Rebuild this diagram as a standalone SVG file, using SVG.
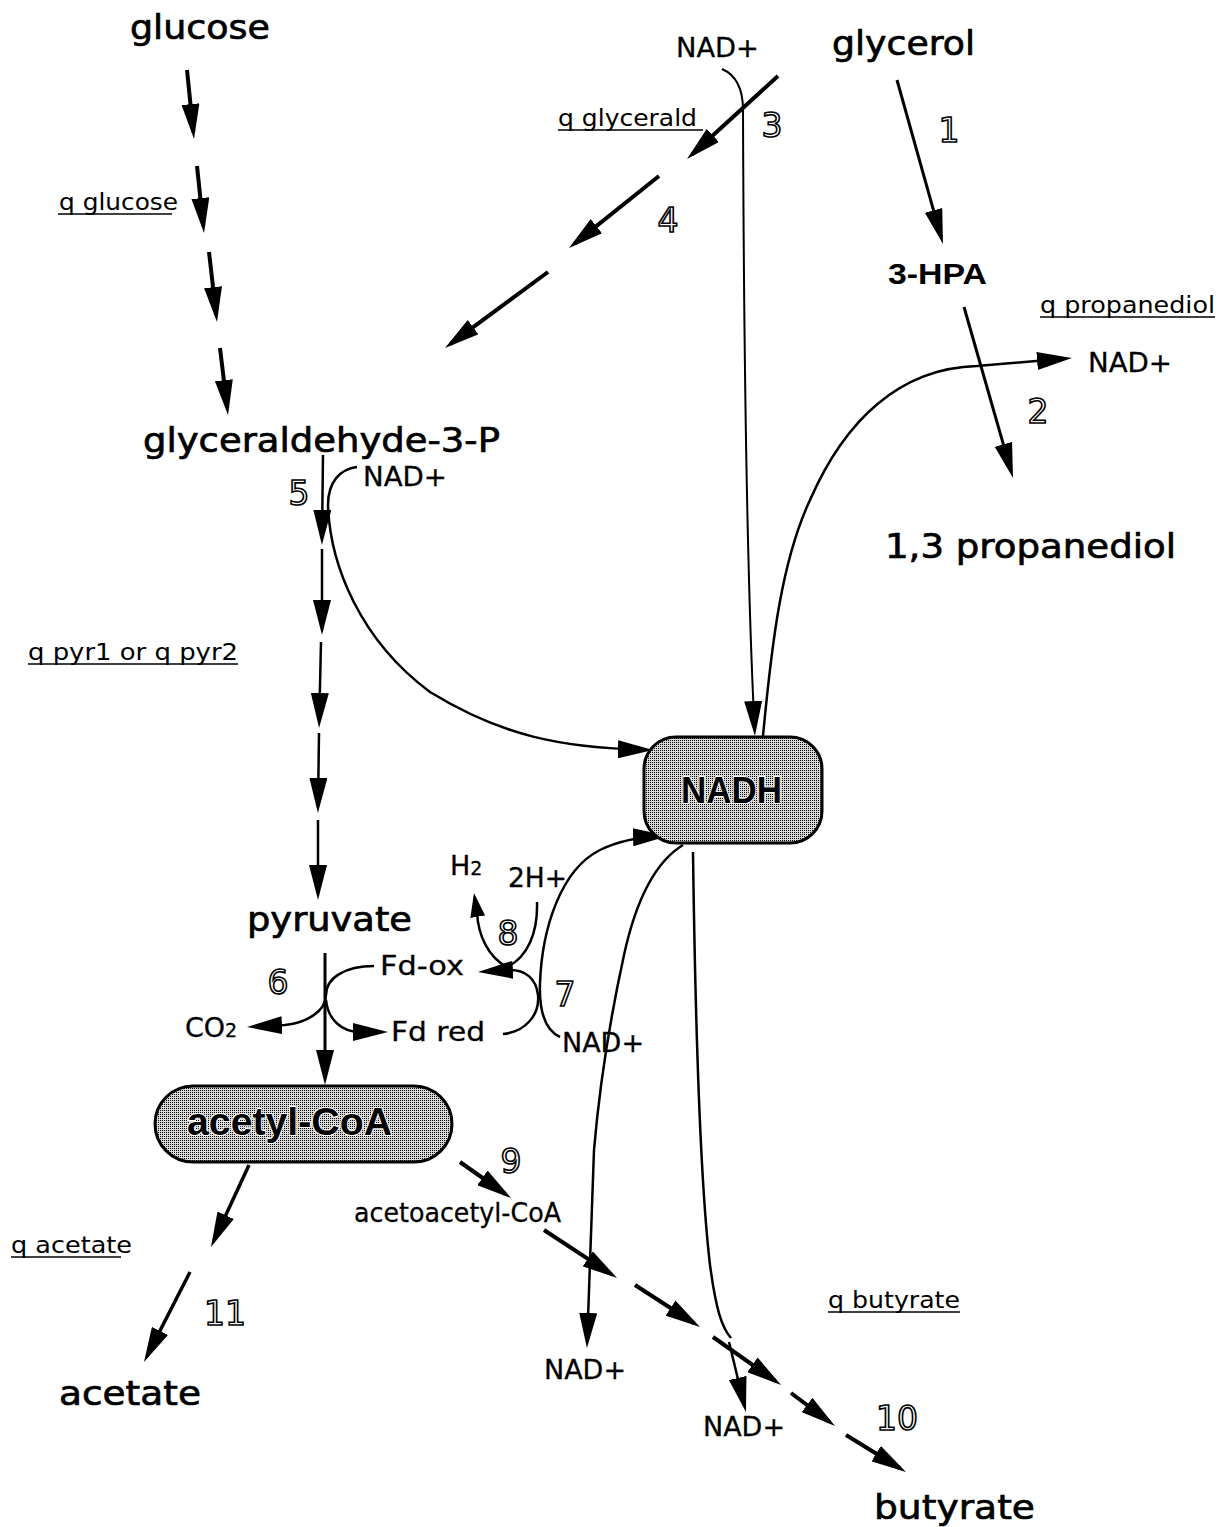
<svg xmlns="http://www.w3.org/2000/svg" width="1227" height="1527" viewBox="0 0 1227 1527">
<defs>
<style>
.big{font-family:"DejaVu Sans",sans-serif;font-size:34px;fill:#000;stroke:#000;stroke-width:0.7px}
.med{font-family:"DejaVu Sans",sans-serif;font-size:27px;fill:#000;stroke:#000;stroke-width:0.3px}
.sm{font-family:"DejaVu Sans",sans-serif;font-size:23px;fill:#000}
.num{font-family:"DejaVu Sans",sans-serif;font-size:33px;fill:#fff;stroke:#000;stroke-width:1.6px;text-anchor:middle}
.bold{font-family:"Liberation Sans",Arial,sans-serif;font-weight:bold;fill:#000}
.halo{stroke:#fff;stroke-width:2px;paint-order:stroke}
.ul{stroke:#000;stroke-width:1.6}
.box{fill:url(#dots);stroke:#000;stroke-width:3}
.c path{fill:none;stroke:#000;stroke-linecap:butt}
.c .t4{stroke-width:4}
.c .t35{stroke-width:3.5}
.c .t3{stroke-width:3}
.c .t25{stroke-width:2.5}
.c .t2{stroke-width:2}
.c .a{marker-end:url(#ah)}
.c .as{marker-end:url(#as)}
</style>
<marker id="ah" viewBox="0 0 35 18" refX="28" refY="9" markerWidth="35" markerHeight="18" markerUnits="userSpaceOnUse" orient="auto"><path d="M0,0 L35,9 L0,18 z" fill="#000"/></marker>
<marker id="as" viewBox="0 0 24 15" refX="20" refY="7.5" markerWidth="24" markerHeight="15" markerUnits="userSpaceOnUse" orient="auto"><path d="M0,0 L24,7.5 L0,15 z" fill="#000"/></marker>
<pattern id="dots" width="2" height="2" patternUnits="userSpaceOnUse"><rect width="2" height="2" fill="#d8d8d8"/><rect width="1" height="1" fill="#000"/></pattern>
</defs>
<rect width="1227" height="1527" fill="#fff"/>

<g id="connectors" class="c">
<!-- glucose chain -->
<path class="t4 a" d="M187,70 L193.3,132"/>
<path class="t4 a" d="M197,166 L203.3,226"/>
<path class="t4 a" d="M209,252 L216.2,315"/>
<path class="t4 a" d="M220,348 L227.2,408"/>
<!-- reaction 4 chain -->
<path class="t4 a" d="M778,76 L692.2,154.3"/>
<path class="t4 a" d="M659,176 L574.5,243.6"/>
<path class="t4 a" d="M548,272 L450.6,343.8"/>
<!-- reaction 3 NAD+ to NADH -->
<path class="t2 a" d="M722,69 C736,75 743,90 743,110 C744,400 748,600 754.6,729"/>
<!-- reactions 1 and 2 -->
<path class="t3 a" d="M897,80 L941.1,237.3"/>
<path class="t3 a" d="M964,307 L1011.1,471.3"/>
<!-- NADH to NAD+ (right) -->
<path class="t25 a" d="M763,736 C772,640 782,560 810,500 C845,420 900,368 977,366 L1065,358.6"/>
<!-- reaction 5 chain -->
<path class="t25 a" d="M323,455 L322,538"/>
<path class="t25 a" d="M322,549 L322,628"/>
<path class="t25 a" d="M321,642 L319.2,721"/>
<path class="t25 a" d="M319,733 L318,806"/>
<path class="t25 a" d="M318,820 L318,893"/>
<!-- NAD+ (5) to NADH -->
<path class="t25 a" d="M357,467 C340,469 328,482 328,505 C330,565 360,640 430,692 C500,735 560,748 646,749.8"/>
<!-- pyruvate to acetyl-CoA -->
<path class="t3 a" d="M325,953 L325,1078"/>
<path class="t25 a" d="M374,966 C345,966 326,978 326,995 C326,1012 305,1023 285,1025 L254,1026.6"/>
<path class="t25 a" d="M326,1000 C328,1020 342,1032 360,1032 L381,1032"/>
<!-- reaction 8 -->
<path class="t25" d="M537,902 C538,932 528,957 507,967"/>
<path class="t25 as" d="M507,967 C488,957 478,935 477,912 L474.6,897"/>
<!-- reaction 7 -->
<path class="t25 a" d="M503,1034 C525,1032 540,1015 538,995 C536,978 525,970 510,970 L485,971.6"/>
<path class="t25 a" d="M560,1037 C545,1030 539,1010 540,983 C542,930 560,870 600,850 C620,840 640,837 661,836.2"/>
<!-- NADH to NAD+ (lower) -->
<path class="t25 a" d="M683,845 C655,862 636,900 624,955 C612,1010 600,1080 594,1150 L587.2,1341"/>
<path class="t25" d="M693,852 C695,1000 700,1180 710,1265 C716,1310 722,1328 731,1338"/>
<path class="t25 a" d="M729,1342 L744.3,1405.2"/>
<!-- butyrate chain -->
<path class="t4 a" d="M544,1230 L611.2,1274.2"/>
<path class="t4 a" d="M635,1285 L694.1,1323.2"/>
<path class="t4 a" d="M713,1337 L775.3,1381"/>
<path class="t4 a" d="M791,1393 L829.4,1421.8"/>
<path class="t4 a" d="M846,1435 L900,1468.3"/>
<!-- reaction 9 -->
<path class="t4 a" d="M460,1162 L505.3,1194"/>
<!-- reaction 11 -->
<path class="t35 a" d="M249,1165 L213.9,1240.7"/>
<path class="t35 a" d="M190,1272 L147.2,1355.8"/>
</g>

<g id="glucose"><text class="big" x="130" y="39" textLength="140" lengthAdjust="spacingAndGlyphs">glucose</text></g>
<g id="glycerol"><text class="big" x="832" y="55" textLength="143" lengthAdjust="spacingAndGlyphs">glycerol</text></g>
<g id="hpa"><text class="bold" x="888" y="284" font-size="30" textLength="99" lengthAdjust="spacingAndGlyphs">3-HPA</text></g>
<g id="propanediol"><text class="big" x="885" y="558" textLength="291" lengthAdjust="spacingAndGlyphs">1,3 propanediol</text></g>
<g id="g3p"><text class="big" x="143" y="452" textLength="357" lengthAdjust="spacingAndGlyphs">glyceraldehyde-3-P</text></g>
<g id="pyruvate"><text class="big" x="247" y="931" textLength="165" lengthAdjust="spacingAndGlyphs">pyruvate</text></g>
<g id="acetate"><text class="big" x="59" y="1405" textLength="142" lengthAdjust="spacingAndGlyphs">acetate</text></g>
<g id="butyrate"><text class="big" x="874" y="1519" textLength="161" lengthAdjust="spacingAndGlyphs">butyrate</text></g>
<g id="nadh">
<rect class="box" x="644" y="737" width="178" height="106" rx="32"/>
<text class="bold halo" x="681" y="803" font-size="37" textLength="101" lengthAdjust="spacingAndGlyphs">NADH</text>
</g>
<g id="acetylcoa">
<rect class="box" x="155" y="1086" width="297" height="76" rx="38"/>
<text class="bold halo" x="187" y="1135" font-size="38" textLength="205" lengthAdjust="spacingAndGlyphs">acetyl-CoA</text>
</g>
<g id="acetoacetylcoa"><text class="med" x="354" y="1222" font-size="24" textLength="207" lengthAdjust="spacingAndGlyphs">acetoacetyl-CoA</text></g>

<g id="cofactors">
<text class="med" x="676" y="57" textLength="83" lengthAdjust="spacingAndGlyphs">NAD+</text>
<text class="med" x="1088" y="372" textLength="84" lengthAdjust="spacingAndGlyphs">NAD+</text>
<text class="med" x="363" y="486" textLength="84" lengthAdjust="spacingAndGlyphs">NAD+</text>
<text class="med" x="562" y="1052" textLength="82" lengthAdjust="spacingAndGlyphs">NAD+</text>
<text class="med" x="544" y="1379" textLength="82" lengthAdjust="spacingAndGlyphs">NAD+</text>
<text class="med" x="703" y="1436" textLength="82" lengthAdjust="spacingAndGlyphs">NAD+</text>
<text class="med" x="380" y="975" textLength="84" lengthAdjust="spacingAndGlyphs">Fd-ox</text>
<text class="med" x="391" y="1041" textLength="94" lengthAdjust="spacingAndGlyphs">Fd red</text>
<text class="med" x="185" y="1037">CO<tspan font-size="19">2</tspan></text>
<text class="med" x="450" y="875">H<tspan font-size="19">2</tspan></text>
<text class="med" x="508" y="887" textLength="59" lengthAdjust="spacingAndGlyphs">2H+</text>
</g>

<g id="flux-labels">
<text class="sm" x="59" y="210" textLength="119" lengthAdjust="spacingAndGlyphs">q glucose</text>
<line class="ul" x1="58" y1="214" x2="172" y2="214"/>
<text class="sm" x="558" y="126" textLength="139" lengthAdjust="spacingAndGlyphs">q glycerald</text>
<line class="ul" x1="558" y1="130" x2="703" y2="130"/>
<text class="sm" x="1040" y="313" textLength="175" lengthAdjust="spacingAndGlyphs">q propanediol</text>
<line class="ul" x1="1040" y1="317" x2="1215" y2="317"/>
<text class="sm" x="28" y="660" textLength="210" lengthAdjust="spacingAndGlyphs">q pyr1 or q pyr2</text>
<line class="ul" x1="28" y1="664" x2="238" y2="664"/>
<text class="sm" x="11" y="1253" textLength="121" lengthAdjust="spacingAndGlyphs">q acetate</text>
<line class="ul" x1="11" y1="1257" x2="121" y2="1257"/>
<text class="sm" x="828" y="1308" textLength="132" lengthAdjust="spacingAndGlyphs">q butyrate</text>
<line class="ul" x1="828" y1="1312" x2="960" y2="1312"/>
</g>

<g id="reaction-numbers">
<text class="num" x="949" y="142">1</text>
<text class="num" x="1038" y="423">2</text>
<text class="num" x="772" y="137">3</text>
<text class="num" x="668" y="232">4</text>
<text class="num" x="299" y="505">5</text>
<text class="num" x="278" y="994">6</text>
<text class="num" x="565" y="1006">7</text>
<text class="num" x="508" y="945">8</text>
<text class="num" x="511" y="1173">9</text>
<text class="num" x="897" y="1430">10</text>
<text class="num" x="225" y="1325">11</text>
</g>
</svg>
